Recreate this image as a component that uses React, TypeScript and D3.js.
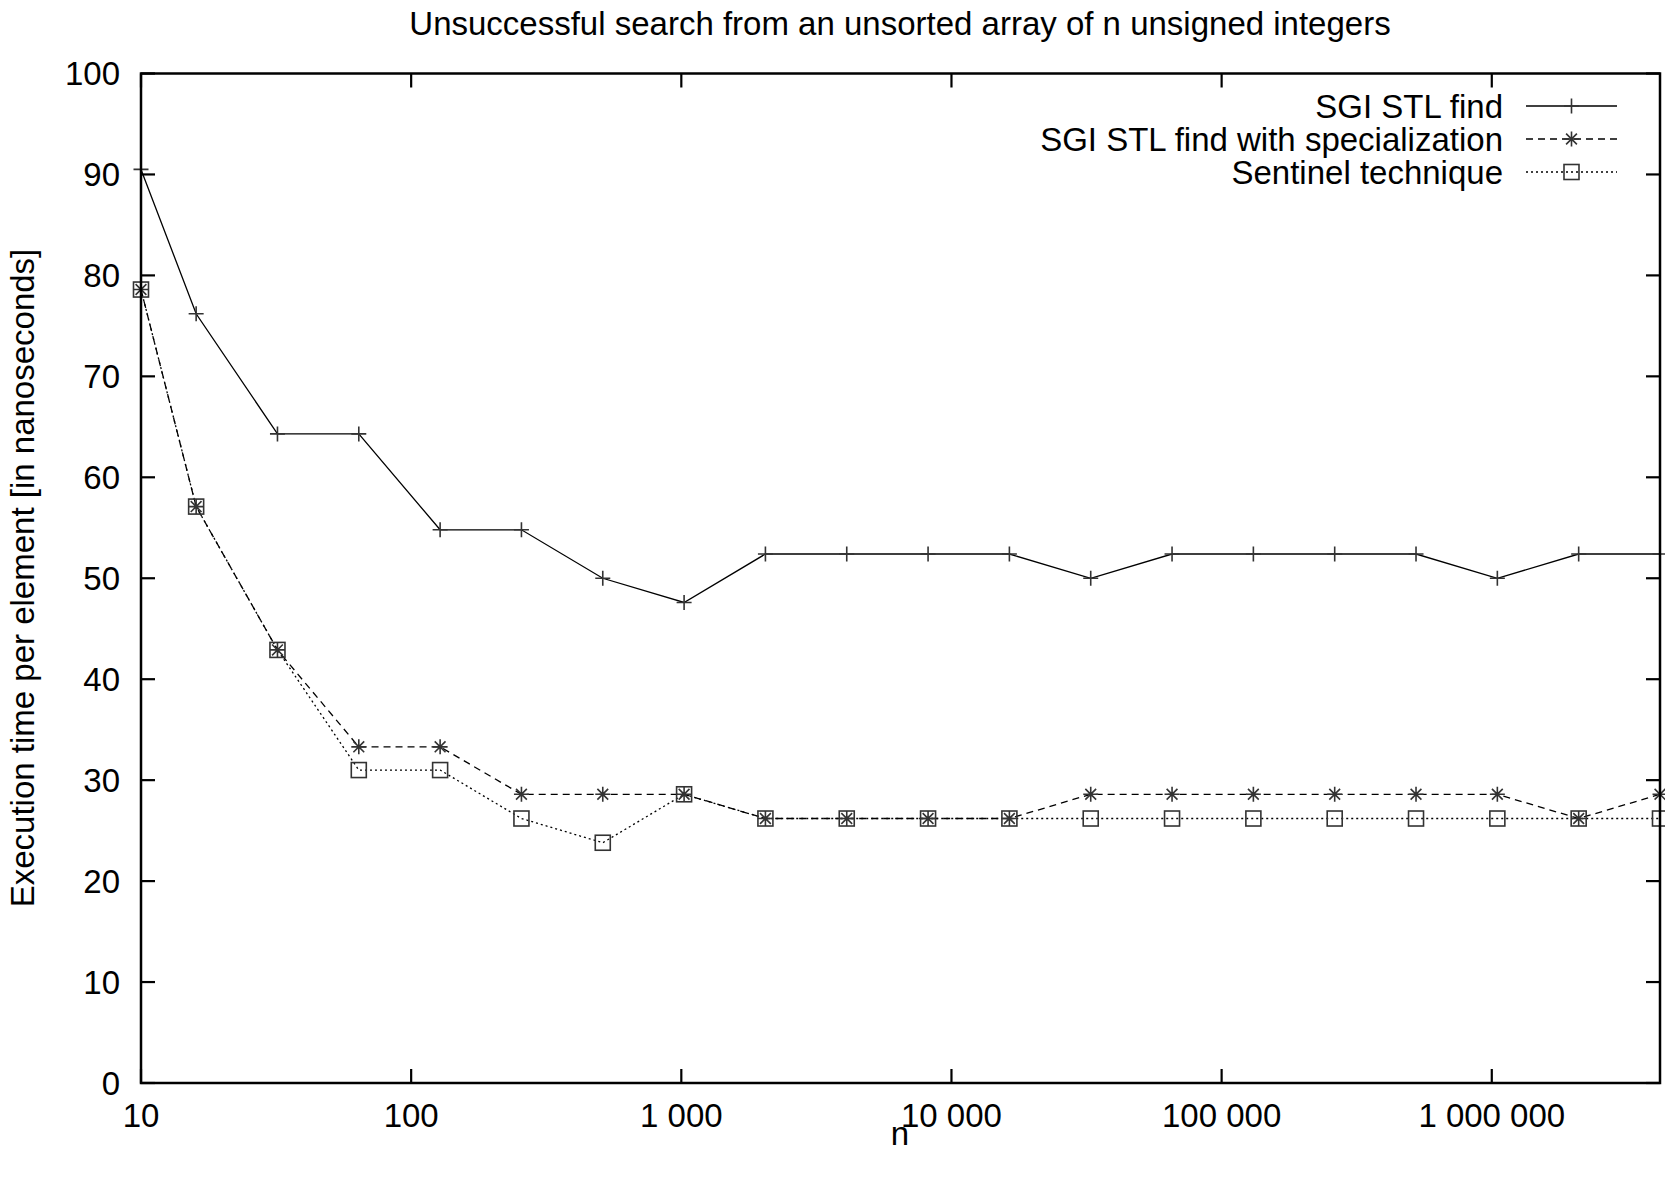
import React from 'react';
import * as d3 from 'd3';

const nValues = [10, 16, 32, 64, 128, 256, 512, 1024, 2048, 4096, 8192, 16384, 32768, 65536, 131072, 262144, 524288, 1048576, 2097152, 4194304];
const sgiFind = [90.5, 76.2, 64.3, 64.3, 54.8, 54.8, 50.0, 47.6, 52.4, 52.4, 52.4, 52.4, 50.0, 52.4, 52.4, 52.4, 52.4, 50.0, 52.4, 52.4];
const sgiSpecial = [78.6, 57.1, 42.9, 33.3, 33.3, 28.6, 28.6, 28.6, 26.2, 26.2, 26.2, 26.2, 28.6, 28.6, 28.6, 28.6, 28.6, 28.6, 26.2, 28.6];
const sentinel = [78.6, 57.1, 42.9, 31.0, 31.0, 26.2, 23.8, 28.6, 26.2, 26.2, 26.2, 26.2, 26.2, 26.2, 26.2, 26.2, 26.2, 26.2, 26.2, 26.2];
const seriesNames = ['SGI STL find', 'SGI STL find with specialization', 'Sentinel technique'];
const xTicks = [10, 100, 1000, 10000, 100000, 1000000];
const xTickLabels = ['10', '100', '1 000', '10 000', '100 000', '1 000 000'];
const yTicks = [0, 10, 20, 30, 40, 50, 60, 70, 80, 90, 100];

const W = 1665, H = 1183;
const L = 141, R = 1660, T = 73.5, B = 1083;
const FONT = 'Liberation Sans, Arial, Helvetica, sans-serif';
const FS = 33;

const styles = [
  { dash: undefined as string | undefined, marker: 'plus' },
  { dash: '7,5', marker: 'star' },
  { dash: '2,3', marker: 'box' },
];

function Marker({ kind, x, y }: { kind: string; x: number; y: number }) {
  const s = 7.5;
  const col = '#333';
  if (kind === 'plus') {
    return <path d={`M${x - s},${y}H${x + s}M${x},${y - s}V${y + s}`} stroke={col} strokeWidth={1.6} fill="none" />;
  }
  if (kind === 'star') {
    const d = s * 0.72;
    return <path d={`M${x - s},${y}H${x + s}M${x},${y - s}V${y + s}M${x - d},${y - d}L${x + d},${y + d}M${x - d},${y + d}L${x + d},${y - d}`} stroke={col} strokeWidth={1.6} fill="none" />;
  }
  return <rect x={x - s} y={y - s} width={2 * s} height={2 * s} stroke={col} strokeWidth={1.6} fill="none" />;
}

export default function App() {
  const x = d3.scaleLog().domain([10, 4194304]).range([L, R]);
  const y = d3.scaleLinear().domain([0, 100]).range([B, T]);
  const data = [sgiFind, sgiSpecial, sentinel];
  const line = d3.line<number>().x((_, i) => x(nValues[i])).y((d) => y(d));
  const tick = 14;
  const legendRows = [106, 139, 172];
  return (
    <svg width={W} height={H} style={{ position: 'absolute', left: 0, top: 0, background: '#fff' }} fontFamily={FONT}>
      <rect x={0} y={0} width={W} height={H} fill="#fff" />
      <text x={900} y={35} textAnchor="middle" fontSize={FS}>Unsuccessful search from an unsorted array of n unsigned integers</text>
      {data.map((vals, si) => (
        <path key={'l' + si} d={line(vals) || ''} fill="none" stroke="#000" strokeWidth={1.3} strokeDasharray={styles[si].dash} />
      ))}
      {data.map((vals, si) => vals.map((v, i) => (
        <Marker key={'m' + si + '-' + i} kind={styles[si].marker} x={x(nValues[i])} y={y(v)} />
      )))}
      {yTicks.map((t) => (
        <g key={'y' + t}>
          <line x1={L} x2={L + tick} y1={y(t)} y2={y(t)} stroke="#000" strokeWidth={2.2} />
          <line x1={R} x2={R - tick} y1={y(t)} y2={y(t)} stroke="#000" strokeWidth={2.2} />
          <text x={120} y={y(t)} dy="0.36em" textAnchor="end" fontSize={FS}>{t}</text>
        </g>
      ))}
      {xTicks.map((t, i) => (
        <g key={'x' + t}>
          <line x1={x(t)} x2={x(t)} y1={B} y2={B - tick} stroke="#000" strokeWidth={2.2} />
          <line x1={x(t)} x2={x(t)} y1={T} y2={T + tick} stroke="#000" strokeWidth={2.2} />
          <text x={x(t)} y={1127} textAnchor="middle" fontSize={FS}>{xTickLabels[i]}</text>
        </g>
      ))}
      <rect x={L} y={T} width={R - L} height={B - T} fill="none" stroke="#000" strokeWidth={2.5} />
      <text x={900} y={1145} textAnchor="middle" fontSize={FS}>n</text>
      <text transform={`translate(33.5,578) rotate(-90)`} textAnchor="middle" fontSize={FS}>Execution time per element [in nanoseconds]</text>
      {seriesNames.map((name, si) => (
        <g key={'lg' + si}>
          <text x={1503} y={legendRows[si]} dy="0.36em" textAnchor="end" fontSize={FS}>{name}</text>
          <line x1={1526} x2={1617} y1={legendRows[si]} y2={legendRows[si]} stroke="#000" strokeWidth={1.3} strokeDasharray={styles[si].dash} />
          <Marker kind={styles[si].marker} x={1571.5} y={legendRows[si]} />
        </g>
      ))}
    </svg>
  );
}
